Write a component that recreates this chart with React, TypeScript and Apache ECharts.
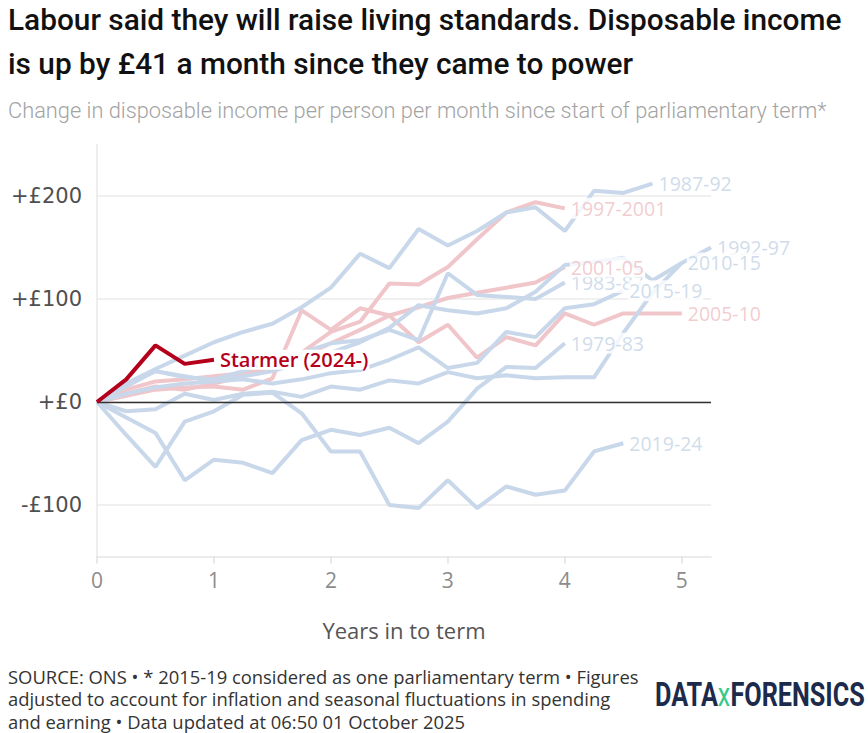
import React, { useEffect, useRef } from "react";
import * as echarts from "echarts";

const quarters = [0, 0.25, 0.5, 0.75, 1, 1.25, 1.5, 1.75, 2, 2.25, 2.5, 2.75, 3, 3.25, 3.5, 3.75, 4, 4.25, 4.5, 4.75, 5, 5.25];

const s1979_83 = [0, -15, -30, -76, -56, -59, -69, -37, -27, -32, -25, -40, -19, 13, 34, 33, 57];
const s1983_87 = [0, 18, 30, 24, 22, 30, 40, 48, 57, 60, 70, 60, 125, 104, 102, 100, 116];
const s1987_92 = [0, 18, 32, 45, 58, 68, 76, 92, 111, 144, 130, 168, 152, 166, 184, 189, 166, 205, 203, 212];
const s1992_97 = [0, 8, 14, 18, 20, 25, 30, 38, 48, 58, 72, 94, 89, 86, 91, 107, 133, 136, 140, 118, 135, 150];
const s1997_01 = [0, 8, 15, 12, 18, 25, 35, 48, 68, 78, 115, 114, 131, 158, 184, 194, 188];
const s2001_05 = [0, 12, 20, 22, 25, 28, 34, 44, 57, 70, 84, 92, 101, 106, 111, 116, 131];
const s2005_10 = [0, 6, 12, 14, 15, 12, 23, 89, 70, 91, 84, 58, 75, 43, 63, 55, 86, 75, 86, 86, 86];
const s2010_15 = [0, -9, -7, 8, 2, 8, 10, 5, 15, 12, 21, 18, 29, 23, 26, 23, 24, 24, 67, 106, 135];
const s2015_19 = [0, 15, 30, 25, 20, 22, 18, 22, 28, 31, 41, 53, 33, 38, 68, 63, 91, 95, 108];
const s2019_24 = [0, -32, -63, -19, -9, 7, 9, -11, -48, -48, -100, -103, -76, -103, -82, -90, -86, -48, -40];
const starmer = [0, 22, 55, 37, 41];

const pinkSeries: [string, number[]][] = [
  ["1997-2001", s1997_01],
  ["2001-05", s2001_05],
  ["2005-10", s2005_10],
];
const blueSeries: [string, number[]][] = [
  ["1979-83", s1979_83],
  ["1983-87", s1983_87],
  ["1987-92", s1987_92],
  ["1992-97", s1992_97],
  ["2010-15", s2010_15],
  ["2015-19", s2015_19],
  ["2019-24", s2019_24],
];
const labelOrder = ["1997-2001", "2005-10", "1979-83", "1987-92", "1983-87", "2001-05", "2015-19", "2019-24", "1992-97", "2010-15"];

const xTicks = [0, 1, 2, 3, 4, 5];
const yTicks = [-100, 0, 100, 200];
const footerLines = [
  "SOURCE: ONS • * 2015-19 considered as one parliamentary term • Figures",
  "adjusted to account for inflation and seasonal fluctuations in spending",
  "and earning • Data updated at 06:50 01 October 2025",
];

const BLUE = "#c8d8ea";
const BLUE_LABEL = "#c3d3e6";
const PINK = "#f0c6ca";
const PINK_LABEL = "#eebfc4";
const RED = "#b5001c";

export default function App() {
  const ref = useRef<HTMLDivElement>(null);
  useEffect(() => {
    document.body.style.margin = "0";
    const chart = echarts.init(ref.current!, null, { renderer: "svg" });
    const line = (name: string, vals: number[], color: string, z: number) => ({
      type: "line",
      name,
      data: vals.map((v, i) => [quarters[i], v]),
      showSymbol: false,
      symbol: "none",
      silent: true,
      z,
      lineStyle: { color, width: 4 },
      itemStyle: { color },
    });
    const series: any[] = [];
    pinkSeries.forEach(([n, v]) => series.push(line(n, v, PINK, 2)));
    blueSeries.forEach(([n, v]) => series.push(line(n, v, BLUE, 2)));
    series[0].markLine = {
      silent: true,
      symbol: ["none", "none"],
      label: { show: false },
      lineStyle: { color: "#333", width: 1.3, type: "solid" },
      data: [{ yAxis: 0 }],
    };

    // End labels for past terms at each series' last point, drawn above all lines
    const all = [
      ...pinkSeries.map((s) => [s[0], s[1], PINK_LABEL]),
      ...blueSeries.map((s) => [s[0], s[1], BLUE_LABEL]),
    ] as [string, number[], string][];
    const labelItems = labelOrder.map((nm) => {
      const s = all.find((a) => a[0] === nm)!;
      const vals = s[1];
      return {
        name: nm,
        value: [quarters[vals.length - 1], vals[vals.length - 1]],
        label: { color: s[2] },
      };
    });
    series.push({
      type: "scatter",
      name: "labels",
      silent: true,
      z: 5,
      symbolSize: 0,
      data: labelItems,
      label: {
        show: true,
        position: "right",
        distance: 5,
        formatter: (p: any) => p.name,
        fontSize: 19.5,
        fontFamily: "Open Sans",
        backgroundColor: "#fff",
        padding: [3, 1, 0, 1],
        lineHeight: 18,
      },
    });

    const st: any = line("Starmer (2024-)", starmer, RED, 6);
    st.endLabel = {
      show: true,
      formatter: () => "Starmer (2024-)",
      color: RED,
      fontSize: 20,
      fontWeight: 600,
      fontFamily: "Open Sans",
      distance: 5,
      backgroundColor: "#fff",
      padding: [0, 1],
    };
    series.push(st);

    chart.setOption({
      animation: false,
      grid: { left: 97, right: 157, top: 144.5, bottom: 176.5, containLabel: false },
      xAxis: {
        type: "value",
        min: 0,
        max: 5.25,
        interval: 1,
        axisLine: { show: true, onZero: false, lineStyle: { color: "#e6e6e6", width: 1.5 } },
        axisTick: { show: true, customValues: xTicks, length: 7, lineStyle: { color: "#e0e0e0", width: 1.5 } },
        axisLabel: { customValues: xTicks, color: "#8c8c8c", fontSize: 21, margin: 13, fontFamily: "Open Sans" },
        splitLine: { show: false },
        name: "Years in to term",
        nameLocation: "middle",
        nameGap: 62,
        nameTextStyle: { color: "#555", fontSize: 22, fontFamily: "Open Sans" },
      },
      yAxis: {
        type: "value",
        min: -150,
        max: 250,
        interval: 50,
        axisLine: { show: true, lineStyle: { color: "#e8e8e8", width: 1.5 } },
        axisTick: { show: false },
        axisLabel: {
          customValues: yTicks,
          color: "#4f4f4f",
          fontSize: 21,
          margin: 15,
          fontFamily: "DejaVu Sans",
          formatter: (v: number) => (v === 0 ? "+£0" : v > 0 ? "+£" + v : "-£" + Math.abs(v)),
        },
        splitLine: { show: true, lineStyle: { color: ["rgba(0,0,0,0)", "#ebebeb"], width: 1.5 } },
      },
      series,
      graphic: [
        {
          type: "text",
          x: 8,
          y: 19,
          style: {
            text: "Labour said they will raise living standards. Disposable income",
            fontSize: 29.8,
            fontWeight: 500,
            fontFamily: "Roboto",
            fill: "#111",
            verticalAlign: "middle",
          },
        },
        {
          type: "text",
          x: 8,
          y: 63,
          style: {
            text: "is up by £41 a month since they came to power",
            fontSize: 29.8,
            fontWeight: 500,
            fontFamily: "Roboto",
            fill: "#111",
            verticalAlign: "middle",
          },
        },
        {
          type: "text",
          x: 8,
          y: 110,
          style: {
            text: "Change in disposable income per person per month since start of parliamentary term*",
            fontSize: 21.8,
            fontWeight: 300,
            fontFamily: "Roboto",
            fill: "#a3a3a3",
            verticalAlign: "middle",
          },
        },
        ...footerLines.map((t, i) => ({
          type: "text",
          x: 8,
          y: 676 + i * 22.5,
          style: { text: t, fontSize: 18.4, fontFamily: "Open Sans", fill: "#333", verticalAlign: "middle" },
        })),
        {
          type: "text",
          x: 655,
          y: 695,
          scaleX: 0.765,
          style: {
            text: "{a|DATA}{b|x}{a|FORENSICS}",
            verticalAlign: "middle",
            rich: {
              a: { fontSize: 33, fontWeight: "bold", fontFamily: "Roboto", fill: "#1c2b4b", color: "#1c2b4b" },
              b: { fontSize: 33, fontWeight: "normal", fontFamily: "Roboto", fill: "#34c98c", color: "#34c98c" },
            },
          },
        },
      ],
    });
    return () => chart.dispose();
  }, []);
  return <div ref={ref} style={{ width: 868, height: 733 }} />;
}
